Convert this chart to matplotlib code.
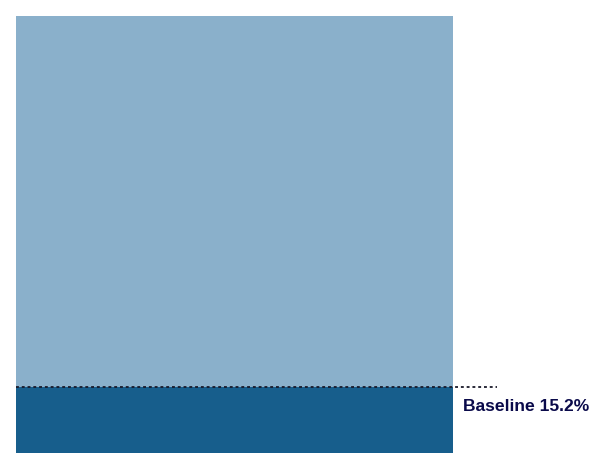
import matplotlib
matplotlib.use('Agg')
import matplotlib.pyplot as plt

# Data
categories = ["Total"]
baseline_values = [15.2]
remainder_values = [100 - 15.2]
baseline_label = "Baseline 15.2%"

fig = plt.figure(figsize=(6.1, 4.7), dpi=100)
ax = fig.add_axes([16 / 610, 17 / 470, 437 / 610, 437 / 470])

ax.bar(categories, baseline_values, width=1.0, color="#175e8c")
ax.bar(categories, remainder_values, width=1.0, bottom=baseline_values, color="#8ab0cb")

ax.set_xlim(-0.5, 0.5)
ax.set_ylim(0, 100)
ax.axis("off")

# Dotted baseline marker extending past the bar
ax.plot([0, 481 / 437], [baseline_values[0]] * 2, transform=ax.get_yaxis_transform(),
        clip_on=False, color="#1a1a2a", linewidth=1.3, linestyle=(0, (1.6, 1.6)))

ax.annotate(baseline_label, xy=(1.0, baseline_values[0]), xycoords=ax.get_yaxis_transform(),
            xytext=(10, -20), textcoords="offset pixels", ha="left", va="center",
            fontsize=12.6, fontweight="bold", family="Liberation Sans", color="#0a0a4a")

fig.savefig("out.png", dpi=100)
